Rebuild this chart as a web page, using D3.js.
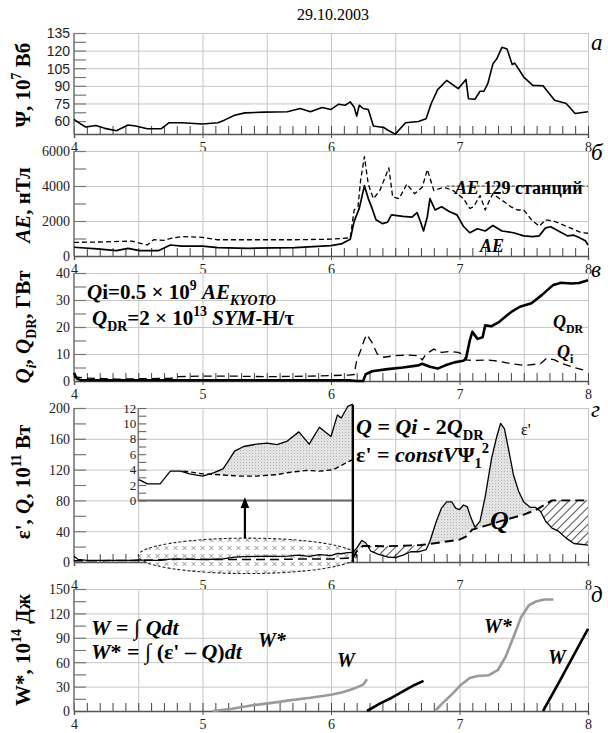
<!DOCTYPE html>
<html>
<head>
<meta charset="utf-8">
<script src="https://cdn.jsdelivr.net/npm/d3@7"></script>
<style>
  body { margin: 0; background: #fff; }
  svg { display: block; }
</style>
</head>
<body>
<div id="chart"></div>
<script>
// Hours (UT) on 29.10.2003
var hours = [4, 5, 6, 7, 8];

// panel a: magnetic flux Psi, 10^7 Wb
var psi = [[4.0,61.4],[4.045,58],[4.09,55],[4.17,56.3],[4.24,53.8],[4.33,51.8],[4.42,56.6],[4.48,55.8],
  [4.57,53.5],[4.68,53.5],[4.74,58.6],[4.84,58.6],[5.0,57.5],[5.12,58.6],[5.17,60.8],[5.25,65],[5.33,67],
  [5.48,67.6],[5.66,67.9],[5.76,70.7],[5.84,67.9],[5.93,71.5],[6.0,69.9],[6.06,74.4],[6.11,73.5],[6.15,76.3],
  [6.18,72],[6.2,64.2],[6.22,73.5],[6.25,70.7],[6.29,69.9],[6.33,55.8],[6.41,54.6],[6.44,52.4],[6.5,48.9],
  [6.58,58.6],[6.68,59.7],[6.74,62],[6.78,75],[6.83,86.8],[6.9,94.6],[6.99,87.6],[7.05,95.5],[7.07,79],
  [7.12,78.6],[7.16,85.4],[7.19,85.4],[7.22,91.8],[7.26,108.7],[7.29,113],[7.33,122.8],[7.37,121.4],
  [7.41,108.2],[7.43,109.3],[7.5,97.5],[7.57,90.4],[7.65,90.1],[7.74,77.7],[7.83,75],[7.9,66.5],[8.0,67.9]];

// panel b: AE index (Kyoto) and AE from 129 stations, nT
var ae = [[4.0,500],[4.18,410],[4.33,310],[4.42,440],[4.51,310],[4.66,310],[4.75,630],[4.84,560],[5.0,560],
  [5.12,480],[5.36,440],[5.72,480],[6.0,590],[6.08,690],[6.15,960],[6.18,1980],[6.22,2720],[6.26,4020],
  [6.29,3280],[6.32,2720],[6.35,2070],[6.4,1850],[6.44,1930],[6.47,2350],[6.56,2260],[6.63,2220],[6.67,2480],
  [6.7,1890],[6.72,1430],[6.75,2260],[6.77,3280],[6.81,2630],[6.86,2810],[6.92,2540],[6.98,2350],[7.03,1700],
  [7.08,1330],[7.14,1560],[7.2,1430],[7.26,1740],[7.33,1430],[7.42,1330],[7.5,1150],[7.57,1110],[7.62,1150],
  [7.67,1610],[7.71,1670],[7.77,1430],[7.84,1150],[7.89,1190],[7.93,1060],[7.98,870],[8.0,630]];
var ae129 = [[4.0,780],[4.2,800],[4.45,850],[4.57,630],[4.62,930],[4.7,890],[4.75,1000],[4.84,1110],[5.0,1070],
  [5.11,930],[5.36,930],[5.72,930],[6.0,960],[6.08,1000],[6.15,1040],[6.18,2630],[6.21,2810],[6.23,4300],
  [6.26,5680],[6.29,4110],[6.33,3280],[6.38,3740],[6.42,4480],[6.45,5040],[6.48,3370],[6.53,3280],[6.59,4110],
  [6.65,3560],[6.71,3930],[6.75,4940],[6.8,3740],[6.88,3930],[6.95,3740],[7.03,3280],[7.08,2720],[7.11,2810],
  [7.16,3460],[7.2,2630],[7.24,3280],[7.26,3560],[7.31,3280],[7.35,3090],[7.4,2810],[7.45,2630],[7.5,2630],
  [7.56,2070],[7.62,1700],[7.67,2070],[7.74,1980],[7.86,1610],[7.95,1330],[8.0,1300]];

// panel c: Joule heating Qi and ring current injection QDR, GW
var qdr = [[4.0,3.0],[4.02,1.0],[4.05,0.3],[4.5,0.3],[5.0,0.3],[5.5,0.3],[6.0,0.3],[6.14,0.3],[6.2,0.0],
  [6.25,0.0],[6.27,2.5],[6.32,3.6],[6.44,4.4],[6.56,5.0],[6.68,5.8],[6.71,6.4],[6.77,5.3],[6.83,4.6],[6.89,5.8],
  [6.96,6.9],[7.03,7.5],[7.05,8.2],[7.08,15],[7.1,18.2],[7.14,15.6],[7.18,16.2],[7.2,20.6],[7.25,20.3],
  [7.31,21.9],[7.4,25.5],[7.47,27.5],[7.56,28.8],[7.64,31.8],[7.73,35.6],[7.79,36.4],[7.87,36.1],[7.93,36.3],
  [8.0,37.3]];
var qi = [[4.0,1.5],[4.1,1.1],[4.33,0.7],[4.75,1.0],[4.81,1.6],[5.0,1.8],[5.24,1.8],[5.5,1.6],[5.84,1.8],
  [6.14,2.2],[6.18,2.4],[6.2,7.6],[6.23,11.2],[6.26,15.4],[6.28,17.2],[6.32,14.2],[6.36,10],[6.41,8.8],
  [6.5,9.4],[6.59,9.6],[6.68,9.4],[6.71,7.8],[6.74,10],[6.8,11.8],[6.86,10.6],[6.92,10.9],[6.99,10.6],
  [7.02,10],[7.05,7.8],[7.12,7.6],[7.22,7.8],[7.31,7.3],[7.4,6.4],[7.51,5.8],[7.63,6.4],[7.68,8.5],
  [7.74,7.8],[7.8,6.4],[7.88,5.2],[8.0,3.6]];

// panel d: energy input eps' and dissipation Q, 10^11 W
var eps = [[4.0,7.5],[4.03,3.5],[4.1,2.2],[4.3,2.0],[4.45,2.2],[4.503,2.7],[4.53,2.5],[4.57,2.15],[4.67,2.15],
  [4.75,3.8],[4.83,3.8],[4.9,3.45],[5.0,3.15],[5.09,3.6],[5.16,4.1],[5.2,5.1],[5.25,6.4],[5.32,7.0],[5.42,7.3],
  [5.5,7.45],[5.58,7.25],[5.66,7.7],[5.75,8.9],[5.83,7.3],[5.91,9.5],[6.0,8.3],[6.05,11.1],[6.08,10.7],
  [6.13,12.2],[6.17,12.5],[6.2,18],[6.24,28],[6.27,25],[6.31,14],[6.37,10],[6.44,6.5],[6.5,5.6],[6.56,9],
  [6.62,13.3],[6.68,13.3],[6.74,16],[6.77,27],[6.82,53],[6.86,70],[6.9,78],[6.94,78],[6.97,70],[7.0,68],
  [7.03,74],[7.06,72],[7.09,57],[7.12,45],[7.16,53],[7.2,85],[7.25,135],[7.29,163],[7.32,180],[7.35,173],
  [7.38,148],[7.42,113],[7.46,92],[7.5,78],[7.55,71],[7.59,71],[7.63,66],[7.67,53],[7.72,44],[7.77,40],
  [7.83,31],[7.89,24],[8.0,22]];
var qTot = [[4.0,1.5],[4.5,2.0],[4.85,3.8],[4.9,3.7],[5.0,3.45],[5.16,3.3],[5.29,3.15],[5.42,3.15],[5.58,3.35],
  [5.66,3.6],[5.81,3.9],[5.91,3.8],[6.02,4.0],[6.12,4.9],[6.17,5.3],[6.2,14],[6.25,21],[6.4,20.5],[6.55,21],
  [6.7,22],[6.77,23.6],[7.0,29],[7.05,33],[7.1,42],[7.32,53],[7.5,61.5],[7.6,68],[7.72,80],[8.0,80]];

// panel e: integrated energies W and W*, 10^14 J
var wStar1 = [[5.08,0],[5.23,2.8],[5.39,7],[5.54,10],[5.69,13.4],[5.84,16.2],[6.0,20],[6.09,23],[6.17,27],
  [6.25,32.4],[6.28,39]];
var w1 = [[6.28,0],[6.39,10],[6.47,16],[6.56,24],[6.65,32],[6.72,37]];
var wStar2 = [[6.81,0],[6.87,10],[6.95,22],[7.01,32],[7.08,40.5],[7.14,43],[7.23,44],[7.3,50.7],[7.36,67],
  [7.42,91],[7.48,115.5],[7.54,130],[7.6,135],[7.66,137],[7.73,137]];
var w2 = [[7.65,0],[7.77,34],[7.89,69],[8.0,101]];

var psiTicks = [60, 75, 90, 105, 120, 135];
var aeTicks = [0, 2000, 4000, 6000];
var qTicks = [0, 10, 20, 30, 40];
var epsTicks = [0, 40, 80, 120, 160, 200];
var insetTicks = [0, 2, 4, 6, 8, 10, 12];
var wTicks = [0, 30, 60, 90, 120, 150];
var panelLetters = ["а", "б", "в", "г", "д"];

var W = 608, H = 733;
var serif = "Liberation Serif, DejaVu Serif, serif";
var sans = "Liberation Sans, DejaVu Sans, sans-serif";
var svg = d3.select("#chart").append("svg").attr("width", W).attr("height", H);
svg.append("rect").attr("width", W).attr("height", H).attr("fill", "#fff");

var defs = svg.append("defs");
var hatch = defs.append("pattern").attr("id", "hatch").attr("patternUnits", "userSpaceOnUse")
  .attr("width", 6).attr("height", 6).attr("patternTransform", "rotate(45)");
hatch.append("line").attr("x1", 0).attr("y1", 0).attr("x2", 0).attr("y2", 6)
  .attr("stroke", "#222").attr("stroke-width", 1.6);
var dots = defs.append("pattern").attr("id", "dots").attr("patternUnits", "userSpaceOnUse")
  .attr("width", 3).attr("height", 3);
dots.append("rect").attr("width", 3).attr("height", 3).attr("fill", "#e2e2e2");
dots.append("rect").attr("width", 1).attr("height", 1).attr("fill", "#b8b8b8");
var cross = defs.append("pattern").attr("id", "cross").attr("patternUnits", "userSpaceOnUse")
  .attr("width", 9).attr("height", 8);
cross.append("rect").attr("width", 9).attr("height", 8).attr("fill", "#fff");
cross.append("path").attr("d", "M2.5,2L6.5,6M6.5,2L2.5,6").attr("stroke", "#777").attr("stroke-width", 0.8);
defs.append("marker").attr("id", "arrow").attr("viewBox", "0 0 10 10").attr("refX", 5).attr("refY", 5)
  .attr("markerWidth", 5).attr("markerHeight", 5).attr("orient", "auto-start-reverse")
  .append("path").attr("d", "M0,1L10,5L0,9z").attr("fill", "#000");

var x = d3.scaleLinear().domain([4, 8]).range([74, 588]);

var yA = d3.scaleLinear().domain([49, 135]).range([134, 33]);
var yB = d3.scaleLinear().domain([0, 6000]).range([256, 151]);
var yC = d3.scaleLinear().domain([0, 40]).range([381, 273]);
var yD = d3.scaleLinear().domain([0, 200]).range([562, 408]);
var yE = d3.scaleLinear().domain([0, 150]).range([711, 589]);
var yIn = d3.scaleLinear().domain([0, 12]).range([yD(80), yD(200)]);

// rich text helper: parts with sup / sub / italic
function rich(sel, parts, fs) {
  var shift = 0;
  parts.forEach(function(p) {
    var target = p.sup ? -fs * 0.42 : (p.sub ? fs * 0.28 : 0);
    var ts = sel.append("tspan").attr("dy", target - shift).text(p.t);
    shift = target;
    if (p.sup || p.sub) ts.attr("font-size", fs * 0.66);
    if (p.i) ts.attr("font-style", "italic");
  });
  return sel;
}

function label(px, py, parts, fs, opt) {
  opt = opt || {};
  var t = svg.append("text").attr("x", px).attr("y", py).attr("font-size", fs)
    .style("font-family", serif)
    .attr("font-weight", opt.normal ? "normal" : "bold").attr("fill", opt.fill || "#000");
  if (opt.rotate) {
    t.attr("transform", "rotate(-90," + px + "," + py + ")").attr("text-anchor", "middle");
  }
  if (opt.anchor) t.attr("text-anchor", opt.anchor);
  return rich(t, parts, fs);
}

// frame of one panel: grid, left axis, tick comb, hour labels
function frame(y, ticks, opt) {
  var g = svg.append("g");
  var y0 = y.range()[0], y1 = y.range()[1];
  var step = ticks[1] - ticks[0];
  // horizontal grid + tick labels
  g.append("g").attr("transform", "translate(" + x(4) + ",0)")
    .call(d3.axisLeft(y).tickValues(ticks).tickSize(-(x(8) - x(4))).tickPadding(4).tickFormat(d3.format("d")))
    .call(function(s) {
      s.select(".domain").remove();
      s.selectAll(".tick line").attr("stroke", "#c6c6c6");
      s.selectAll(".tick text").attr("font-size", 14).attr("fill", "#222")
        .style("font-family", opt.font || serif).attr("dy", "0.35em");
      s.selectAll(".tick").filter(function(d) { return d === ticks[0]; }).select("line").remove();
    });
  // vertical grid every half hour
  g.append("g").attr("transform", "translate(0," + y0 + ")")
    .call(d3.axisBottom(x).tickValues(d3.range(4.5, 8.01, 0.5)).tickSize(-(y0 - y1)).tickFormat(""))
    .call(function(s) {
      s.select(".domain").remove();
      s.selectAll(".tick line").attr("stroke", "#c6c6c6");
    });
  // inner ticks on the left axis
  var minor = d3.range(ticks[0], ticks[ticks.length - 1] + 1e-9, step / 2);
  g.append("g").attr("transform", "translate(" + x(4) + ",0)")
    .call(d3.axisRight(y).tickValues(minor).tickSize(12).tickFormat(""))
    .call(function(s) {
      s.select(".domain").remove();
      s.selectAll(".tick line").attr("stroke", "#777").attr("stroke-width", 1.2);
    });
  // tick comb on the time axis, every 0.1 h
  g.append("g").attr("transform", "translate(0," + y0 + ")")
    .call(d3.axisBottom(x).tickValues(d3.range(4, 8.001, 0.1)).tickSize(-8).tickFormat(""))
    .call(function(s) {
      s.select(".domain").remove();
      s.selectAll(".tick line").attr("stroke", "#444").attr("stroke-width", 1);
    });
  // hour labels
  g.append("g").attr("transform", "translate(0," + y0 + ")")
    .call(d3.axisBottom(x).tickValues(hours).tickSize(4).tickPadding(opt.pad || 4).tickFormat(d3.format("d")))
    .call(function(s) {
      s.select(".domain").attr("stroke", "#555").attr("stroke-width", 1.5);
      s.selectAll(".tick line").attr("stroke", "#555");
      s.selectAll(".tick text").attr("font-size", 14).attr("fill", "#222").style("font-family", serif);
    });
  // left axis line
  g.append("line").attr("x1", x(4)).attr("x2", x(4)).attr("y1", y0).attr("y2", y1)
    .attr("stroke", "#777").attr("stroke-width", 1.6);
  return g;
}

frame(yA, psiTicks, { font: sans });
frame(yB, aeTicks, {});
frame(yC, qTicks, {});
frame(yD, epsTicks, { pad: 14 });
frame(yE, wTicks, {});

function line(y) {
  return d3.line().x(function(d) { return x(d[0]); }).y(function(d) { return y(d[1]); });
}
function plot(data, y, stroke, width, dash) {
  svg.append("path").datum(data).attr("d", line(y)).attr("fill", "none")
    .attr("stroke", stroke).attr("stroke-width", width)
    .attr("stroke-dasharray", dash || null).attr("stroke-linejoin", "round");
}

// ---- panel a
plot(psi, yA, "#000", 1.6);

// ---- panel b
plot(ae129, yB, "#000", 1.3, "5,3");
plot(ae, yB, "#000", 1.7);
svg.append("line").attr("x1", x(6.9)).attr("x2", x(8)).attr("y1", yB(4000)).attr("y2", yB(4000))
  .attr("stroke", "#333").attr("stroke-width", 1).attr("stroke-dasharray", "3,2");

// ---- panel c
plot(qi, yC, "#000", 1.3, "8,5");
plot(qdr, yC, "#000", 2.6);

// ---- panel d: fills between eps' and Q
function interp(data, t) {
  var i = d3.bisector(function(d) { return d[0]; }).left(data, t);
  if (i <= 0) return data[0][1];
  if (i >= data.length) return data[data.length - 1][1];
  var a = data[i - 1], b = data[i];
  return a[1] + (b[1] - a[1]) * (t - a[0]) / (b[0] - a[0]);
}
function both(t0, t1) {
  return d3.range(t0, t1 + 1e-9, 0.002).map(function(t) {
    return { t: t, e: interp(eps, t), q: interp(qTot, t) };
  });
}
var tBar = 6.17;
var main = both(tBar, 8);
svg.append("path").datum(main).attr("fill", "url(#dots)")
  .attr("d", d3.area().x(function(d) { return x(d.t); })
    .y0(function(d) { return yD(d.q); }).y1(function(d) { return yD(Math.max(d.e, d.q)); }));
svg.append("path").datum(main).attr("fill", "url(#hatch)")
  .attr("d", d3.area().x(function(d) { return x(d.t); })
    .y0(function(d) { return yD(d.e); }).y1(function(d) { return yD(Math.max(d.e, d.q)); }));

// ellipse marking the zoomed-in interval
svg.append("ellipse")
  .attr("cx", x((4.5 + 6.2) / 2)).attr("cy", yD(8))
  .attr("rx", (x(6.2) - x(4.5)) / 2).attr("ry", (yD(-15) - yD(31)) / 2)
  .attr("fill", "url(#cross)").attr("stroke", "#222").attr("stroke-width", 1.1)
  .attr("stroke-dasharray", "3,2");

plot(eps.filter(function(d) { return d[0] <= tBar; }), yD, "#000", 1.3);
plot(qTot.filter(function(d) { return d[0] <= tBar; }), yD, "#000", 1.5, "9,5");
plot(eps.filter(function(d) { return d[0] >= tBar; }), yD, "#000", 1.3);
plot(qTot.filter(function(d) { return d[0] >= tBar; }), yD, "#000", 1.9, "9,5");

// inset (4.5-6.17 h magnified)
var ins = both(4.85, tBar);
svg.append("path").datum(ins).attr("fill", "url(#dots)")
  .attr("d", d3.area().x(function(d) { return x(d.t); })
    .y0(function(d) { return yIn(d.q); }).y1(function(d) { return yIn(Math.max(d.e, d.q)); }));
svg.append("g").attr("transform", "translate(" + x(4.5) + ",0)")
  .call(d3.axisRight(yIn).tickValues(d3.range(0, 12.01, 1)).tickSize(8).tickFormat(""))
  .call(function(s) {
    s.select(".domain").remove();
    s.selectAll(".tick line").attr("stroke", "#666").attr("stroke-width", 1.1);
  });
svg.append("g").attr("transform", "translate(" + x(4.5) + ",0)")
  .call(d3.axisLeft(yIn).tickValues(insetTicks).tickSize(0).tickPadding(2))
  .call(function(s) {
    s.select(".domain").remove();
    s.selectAll(".tick text").attr("font-size", 13).attr("fill", "#222").style("font-family", serif);
  });
svg.append("line").attr("x1", x(4.5)).attr("x2", x(4.5)).attr("y1", yIn(0)).attr("y2", yIn(12))
  .attr("stroke", "#777").attr("stroke-width", 1.4);
svg.append("line").attr("x1", x(4.5)).attr("x2", x(tBar)).attr("y1", yIn(0)).attr("y2", yIn(0))
  .attr("stroke", "#666").attr("stroke-width", 2);
plot(eps.filter(function(d) { return d[0] >= 4.5 && d[0] <= tBar; }), yIn, "#000", 1.3);
plot(qTot.filter(function(d) { return d[0] >= 4.85 && d[0] <= tBar; }), yIn, "#000", 1.4, "5,3");
svg.append("line").attr("x1", x(tBar)).attr("x2", x(tBar)).attr("y1", yD(0)).attr("y2", yD(204))
  .attr("stroke", "#000").attr("stroke-width", 2.4);
svg.append("line").attr("x1", x(5.33)).attr("x2", x(5.33)).attr("y1", yD(31)).attr("y2", yD(77))
  .attr("stroke", "#000").attr("stroke-width", 2.2).attr("marker-end", "url(#arrow)");

// ---- panel e
plot(wStar1, yE, "#9a9a9a", 2.6);
plot(wStar2, yE, "#9a9a9a", 2.6);
plot(w1, yE, "#000", 2.6);
plot(w2, yE, "#000", 2.6);

// ---- texts
svg.append("text").attr("x", 333).attr("y", 20).attr("text-anchor", "middle")
  .style("font-family", serif).attr("font-size", 16).text("29.10.2003");

var letterY = [50, 160, 277, 417, 602];
panelLetters.forEach(function(l, i) {
  svg.append("text").attr("x", 591).attr("y", letterY[i]).attr("font-size", 23)
    .style("font-family", serif).attr("font-style", "italic").text(l);
});

label(30, 85, [{ t: "Ψ, 10" }, { t: "7", sup: true }, { t: " Вб" }], 21, { rotate: true });
label(30, 205, [{ t: "AE", i: true }, { t: ", нТл" }], 21, { rotate: true });
label(30, 327, [{ t: "Q", i: true }, { t: "i", sub: true, i: true }, { t: ", " }, { t: "Q", i: true },
  { t: "DR", sub: true }, { t: ", ГВт" }], 21, { rotate: true });
label(30, 482, [{ t: "ε', " }, { t: "Q", i: true }, { t: ", 10" }, { t: "11", sup: true }, { t: " Вт" }],
  21, { rotate: true });
label(30, 650, [{ t: "W*, 10" }, { t: "14", sup: true }, { t: " Дж" }], 21, { rotate: true });

label(455, 194, [{ t: "AE", i: true }, { t: " 129 станций" }], 18);
label(480, 252, [{ t: "AE", i: true }], 18);

label(87, 299, [{ t: "Q", i: true }, { t: "i=0.5 × 10" }, { t: "9", sup: true }, { t: " " },
  { t: "AE", i: true }, { t: "KYOTO", sub: true, i: true }], 21);
label(92, 325, [{ t: "Q", i: true }, { t: "DR", sub: true }, { t: "=2 × 10" }, { t: "13", sup: true },
  { t: " " }, { t: "SYM", i: true }, { t: "-H/τ" }], 21);
label(553, 328, [{ t: "Q", i: true }, { t: "DR", sub: true }], 18);
label(557, 358, [{ t: "Q", i: true }, { t: "i", sub: true }], 18);

label(356, 434, [{ t: "Q", i: true }, { t: " = " }, { t: "Qi", i: true }, { t: " - 2" }, { t: "Q", i: true },
  { t: "DR", sub: true }], 22);
label(356, 462, [{ t: "ε' = " }, { t: "constV", i: true }, { t: "Ψ" }, { t: "1", sub: true },
  { t: "2", sup: true }], 22);
label(521, 435, [{ t: "ε'" }], 16, { normal: true });
label(490, 529, [{ t: "Q", i: true }], 26);

label(91, 635, [{ t: "W", i: true }, { t: " = ∫ " }, { t: "Qdt", i: true }], 22);
label(91, 659, [{ t: "W", i: true }, { t: "* = ∫ (ε' – " }, { t: "Q", i: true }, { t: ")" },
  { t: "dt", i: true }], 22);
label(258, 647, [{ t: "W*", i: true }], 20);
label(337, 667, [{ t: "W", i: true }], 20);
label(484, 633, [{ t: "W*", i: true }], 20);
label(548, 664, [{ t: "W", i: true }], 20);
</script>
</body>
</html>
